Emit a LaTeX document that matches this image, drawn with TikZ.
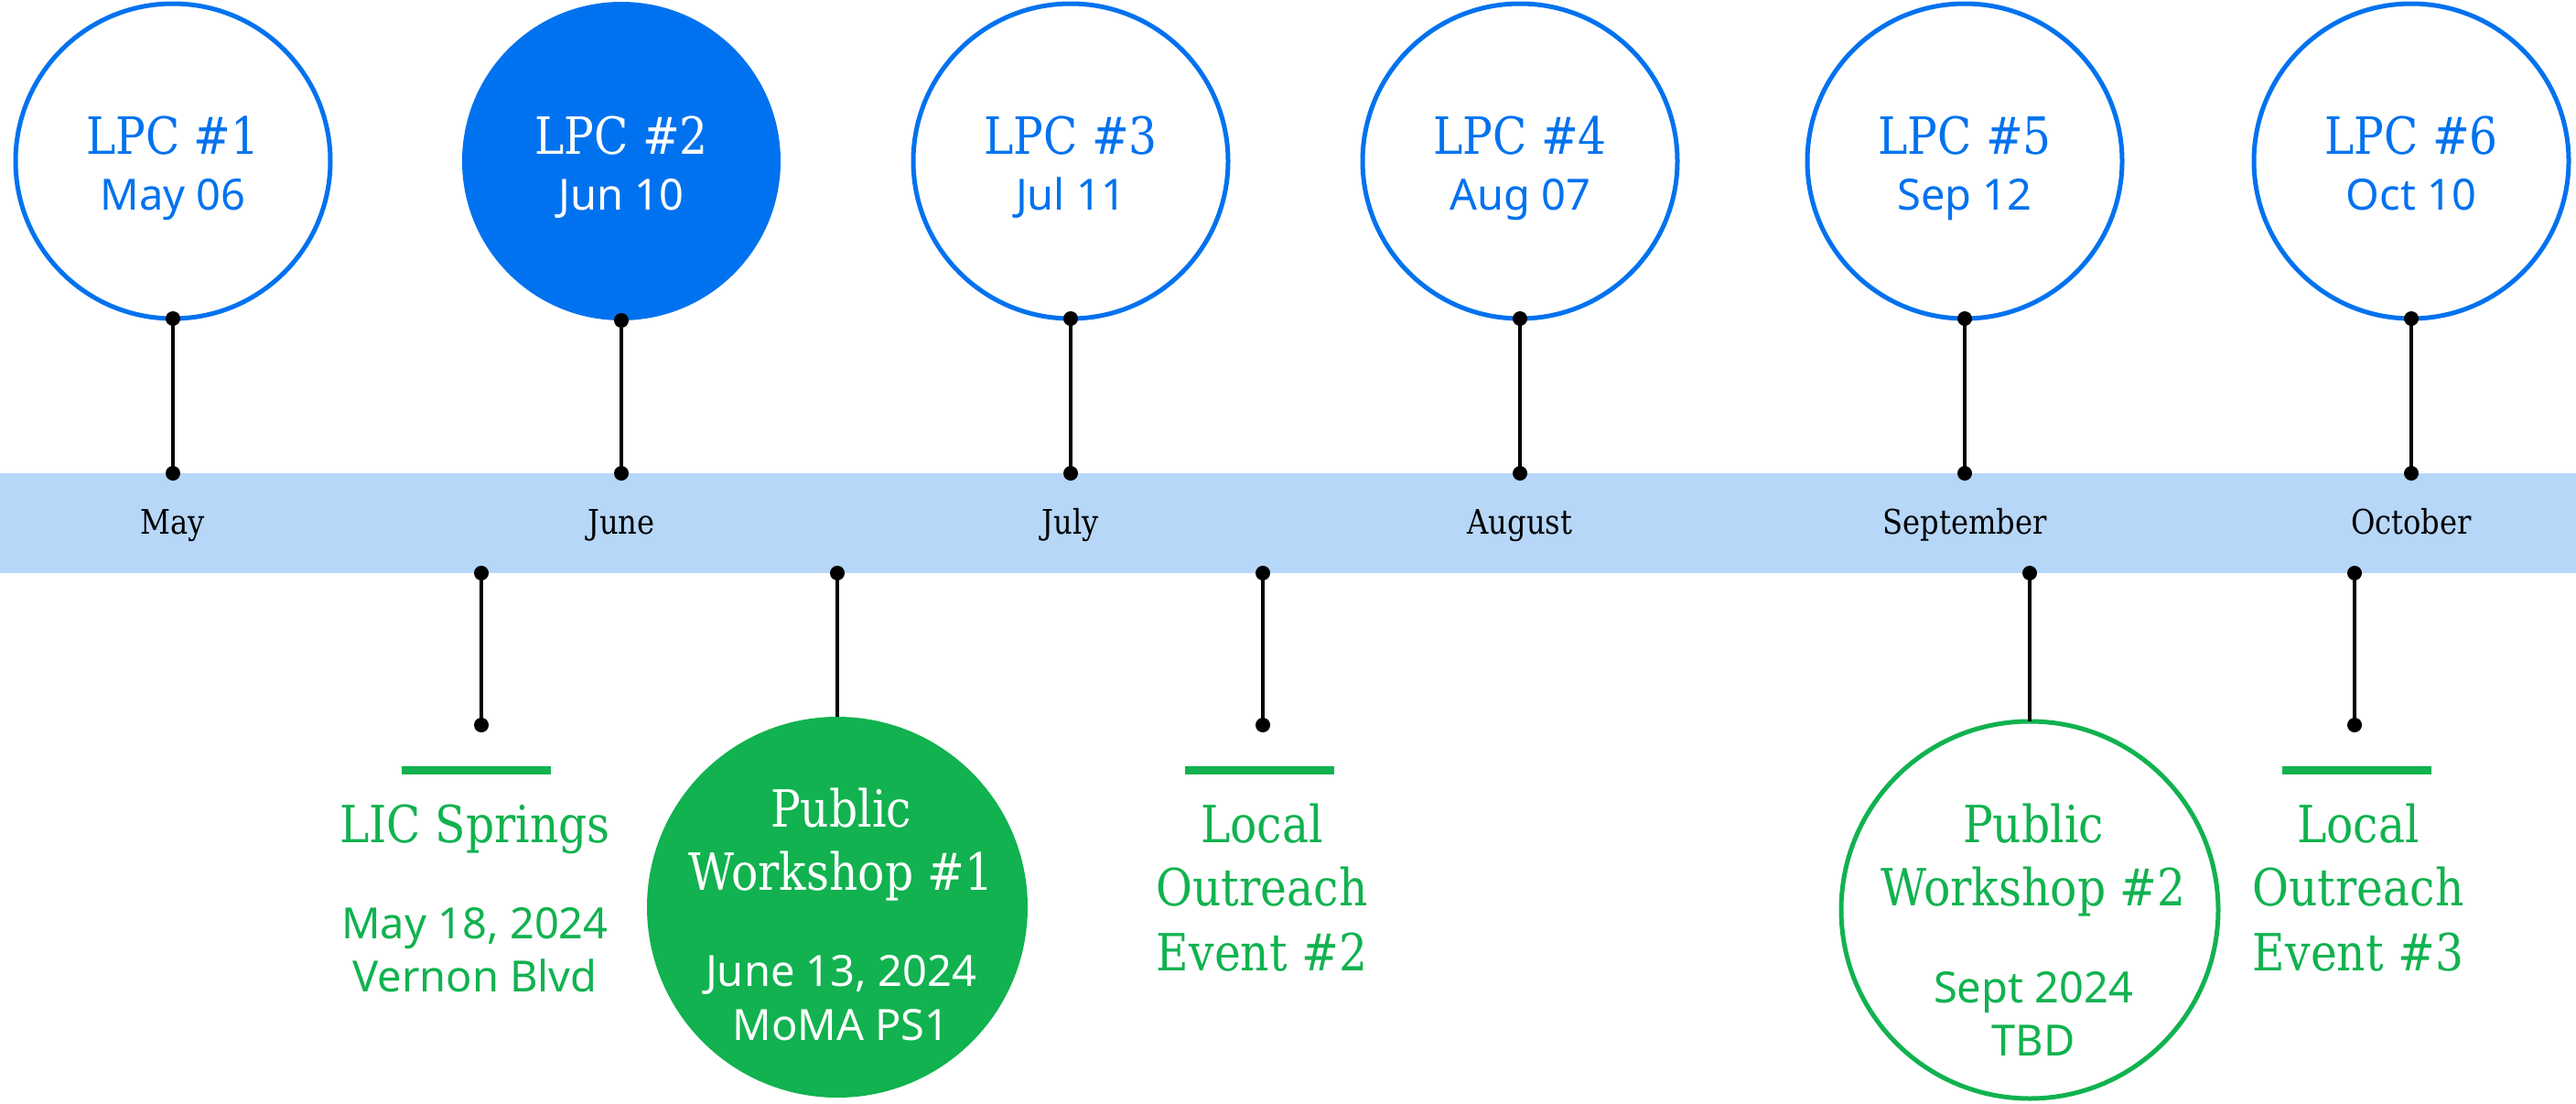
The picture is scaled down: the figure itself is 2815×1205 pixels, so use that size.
\documentclass[tikz,border=0pt]{standalone}
\usepackage{fontspec}
\setmainfont{Noto Sans}
\newfontfamily\slab[FakeStretch=0.87]{DejaVu Serif}
\newfontfamily\plain{Noto Sans}
\definecolor{lpcblue}{HTML}{0172EF}
\definecolor{bandblue}{HTML}{B6D7F8}
\definecolor{evgreen}{HTML}{11B24F}
\begin{document}
\begin{tikzpicture}[x=0.5pt,y=-0.5pt,
  lpc/.style={circle,draw=lpcblue,line width=2.5pt,fill=white,minimum size=172pt,inner sep=0pt,outer sep=0pt},
  lpcfill/.style={circle,fill=lpcblue,minimum size=174pt,inner sep=0pt,outer sep=0pt},
  pwfill/.style={circle,fill=evgreen,minimum size=208pt,inner sep=0pt,outer sep=0pt},
  pwring/.style={circle,draw=evgreen,line width=2.5pt,fill=white,minimum size=206pt,inner sep=0pt,outer sep=0pt},
  bigtxt/.style={anchor=base,inner sep=0pt,font=\slab\fontsize{28}{34}\selectfont},
  datetxt/.style={anchor=base,inner sep=0pt,font=\plain\fontsize{23.5}{29}\selectfont},
  month/.style={anchor=base,inner sep=0pt,font=\slab\fontsize{18.5}{22}\selectfont,text=black},
  stem/.style={line width=1.7pt,black},
  dot/.style={fill=black},
  bar/.style={fill=evgreen,minimum width=81.5pt,minimum height=4.5pt,inner sep=0pt}
]
\useasboundingbox (0,0) rectangle (2815,1205);

% timeline band
\node[fill=bandblue,minimum width=1407.5pt,minimum height=54.5pt,inner sep=0pt,outer sep=0pt,anchor=north west] (band) at (0,517) {};

% month labels
\node[month] (mMay) at (189,583) {May};
\node[month] (mJun) at (679,583) {June};
\node[month] (mJul) at (1170,583) {July};
\node[month] (mAug) at (1661,583) {August};
\node[month] (mSep) at (2147,583) {September};
\node[month] (mOct) at (2635,583) {October};

% anchor points on the band edges
\foreach \n/\x in {1/189,2/679,3/1170,4/1661,5/2147,6/2635}
  \coordinate (t\n) at (\x,517);
\coordinate (bLic) at (526,626);
\coordinate (bPw1) at (915,626);
\coordinate (bLo2) at (1380,626);
\coordinate (bPw2) at (2218,626);
\coordinate (bLo3) at (2573,626);

% LPC meetings
\node[lpc] (lpc1) at (189,176) {};
\node[lpcfill] (lpc2) at (679,176) {};
\node[lpc] (lpc3) at (1170,176) {};
\node[lpc] (lpc4) at (1661,176) {};
\node[lpc] (lpc5) at (2147,176) {};
\node[lpc] (lpc6) at (2635,176) {};

\node[bigtxt,text=lpcblue] (lpc1a) at (189,168) {LPC \#1};
\node[datetxt,text=lpcblue] (lpc1b) at (189,229) {May 06};
\node[bigtxt,text=white] (lpc2a) at (679,168) {LPC \#2};
\node[datetxt,text=white] (lpc2b) at (679,229) {Jun 10};
\node[bigtxt,text=lpcblue] (lpc3a) at (1170,168) {LPC \#3};
\node[datetxt,text=lpcblue] (lpc3b) at (1170,229) {Jul 11};
\node[bigtxt,text=lpcblue] (lpc4a) at (1661,168) {LPC \#4};
\node[datetxt,text=lpcblue] (lpc4b) at (1661,229) {Aug 07};
\node[bigtxt,text=lpcblue] (lpc5a) at (2147,168) {LPC \#5};
\node[datetxt,text=lpcblue] (lpc5b) at (2147,229) {Sep 12};
\node[bigtxt,text=lpcblue] (lpc6a) at (2635,168) {LPC \#6};
\node[datetxt,text=lpcblue] (lpc6b) at (2635,229) {Oct 10};

\foreach \n in {1,...,6}{
  \draw[stem] (lpc\n.south) -- (t\n);
  \fill[dot] (lpc\n.south) circle (4pt);
  \fill[dot] (t\n) circle (4pt);
}

% LIC Springs
\coordinate (eLic) at (526,792);
\draw[stem] (bLic) -- (eLic);
\fill[dot] (bLic) circle (4pt);
\fill[dot] (eLic) circle (4pt);
\node[bar] (barLic) at (520,841) {};
\node[bigtxt,text=evgreen] (lic1) at (519,920) {LIC Springs};
\node[datetxt,text=evgreen] (lic2) at (519,1025) {May 18, 2024};
\node[datetxt,text=evgreen] (lic3) at (519,1083) {Vernon Blvd};

% Public Workshop #1
\node[pwfill] (pw1) at (915,991) {};
\draw[stem] (bPw1) -- (pw1.north);
\fill[dot] (bPw1) circle (4pt);
\node[bigtxt,text=white] (pw1a) at (919,903) {Public};
\node[bigtxt,text=white] (pw1b) at (919,972) {Workshop \#1};
\node[datetxt,text=white] (pw1c) at (919,1077) {June 13, 2024};
\node[datetxt,text=white] (pw1d) at (919,1136) {MoMA PS1};

% Local Outreach Event #2
\coordinate (eLo2) at (1380,792);
\draw[stem] (bLo2) -- (eLo2);
\fill[dot] (bLo2) circle (4pt);
\fill[dot] (eLo2) circle (4pt);
\node[bar] (barLo2) at (1376,841) {};
\node[bigtxt,text=evgreen] (lo2a) at (1379,920) {Local};
\node[bigtxt,text=evgreen] (lo2b) at (1379,989) {Outreach};
\node[bigtxt,text=evgreen] (lo2c) at (1379,1060) {Event \#2};

% Public Workshop #2
\node[pwring] (pw2) at (2218,994) {};
\draw[stem] (bPw2) -- (pw2.north);
\fill[dot] (bPw2) circle (4pt);
\node[bigtxt,text=evgreen] (pw2a) at (2222,920) {Public};
\node[bigtxt,text=evgreen] (pw2b) at (2222,989) {Workshop \#2};
\node[datetxt,text=evgreen] (pw2c) at (2222,1095) {Sept 2024};
\node[datetxt,text=evgreen] (pw2d) at (2222,1153) {TBD};

% Local Outreach Event #3
\coordinate (eLo3) at (2573,792);
\draw[stem] (bLo3) -- (eLo3);
\fill[dot] (bLo3) circle (4pt);
\fill[dot] (eLo3) circle (4pt);
\node[bar] (barLo3) at (2575,841) {};
\node[bigtxt,text=evgreen] (lo3a) at (2577,920) {Local};
\node[bigtxt,text=evgreen] (lo3b) at (2577,989) {Outreach};
\node[bigtxt,text=evgreen] (lo3c) at (2577,1060) {Event \#3};
\end{tikzpicture}
\end{document}
